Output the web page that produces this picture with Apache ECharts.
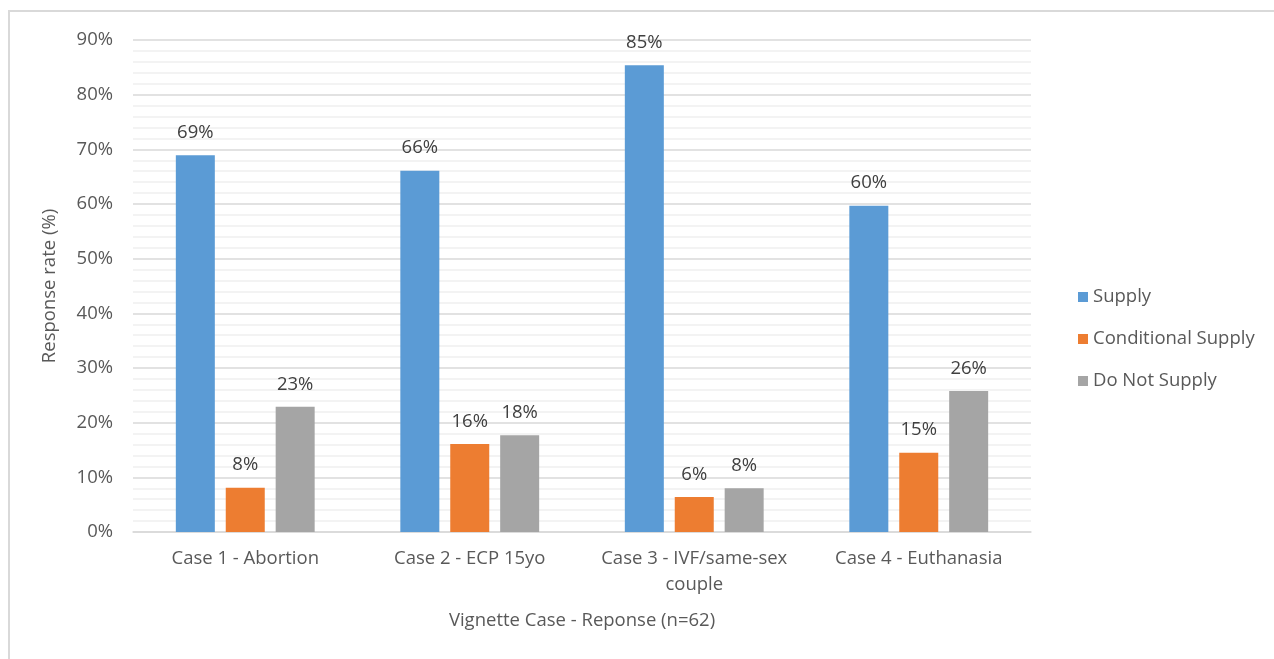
<!DOCTYPE html>
<html>
<head>
<meta charset="utf-8">
<script src="https://cdn.jsdelivr.net/npm/echarts@6/dist/echarts.min.js"></script>
<style>
  html, body { margin: 0; padding: 0; background: #fff; }
  #main { width: 1274px; height: 659px; }
</style>
</head>
<body>
<div id="main"></div>
<script>
const categories = ['Case 1 - Abortion', 'Case 2 - ECP 15yo', 'Case 3 - IVF/same-sex\ncouple', 'Case 4 - Euthanasia'];
const supply = [68.9, 66.1, 85.4, 59.7];
const conditionalSupply = [8.1, 16.1, 6.4, 14.5];
const doNotSupply = [22.9, 17.7, 8.0, 25.8];
const seriesNames = ['Supply', 'Conditional Supply', 'Do Not Supply'];

const chart = echarts.init(document.getElementById('main'));
const font = '"Open Sans", sans-serif';
const fs = 18.5;

function barSeries(name, values, color) {
  return {
    name: name,
    type: 'bar',
    data: values,
    barWidth: 39,
    barGap: '28%',
    itemStyle: { color: color },
    label: {
      show: true,
      position: 'top',
      distance: 13,
      color: '#404040',
      fontFamily: font,
      fontSize: fs,
      formatter: p => Math.round(p.value) + '%'
    }
  };
}

var option = {
  backgroundColor: '#fff',
  animation: false,
  color: ['#5B9BD5', '#ED7D31', '#A5A5A5'],
  grid: { left: 133, right: 243, top: 40, bottom: 127 },
  legend: {
    orient: 'vertical',
    left: 1073,
    top: 282,
    itemWidth: 10,
    itemHeight: 10,
    itemGap: 22,
    icon: 'rect',
    data: seriesNames,
    textStyle: { color: '#595959', fontFamily: font, fontSize: fs, lineHeight: 20 }
  },
  xAxis: {
    type: 'category',
    data: categories,
    name: 'Vignette Case - Reponse (n=62)',
    nameLocation: 'middle',
    nameGap: 79,
    nameTextStyle: { color: '#595959', fontFamily: font, fontSize: fs },
    axisLine: { lineStyle: { color: '#d9d9d9', width: 1.5 } },
    axisTick: { show: false },
    axisLabel: { interval: 0, color: '#595959', fontFamily: font, fontSize: fs, lineHeight: 26, margin: 14 }
  },
  yAxis: {
    type: 'value',
    min: 0,
    max: 90,
    interval: 10,
    name: 'Response rate (%)',
    nameLocation: 'middle',
    nameGap: 74,
    nameTextStyle: { color: '#595959', fontFamily: font, fontSize: fs },
    axisLine: { show: false },
    axisTick: { show: false },
    axisLabel: { color: '#595959', fontFamily: font, fontSize: fs, margin: 20, formatter: '{value}%' },
    splitLine: { lineStyle: { color: '#d9d9d9', width: 1.5 } },
    minorTick: { show: false, splitNumber: 5 },
    minorSplitLine: { show: true, lineStyle: { color: '#f0f0f0', width: 1.5 } }
  },
  graphic: [
    { type: 'line', shape: { x1: 8, y1: 11, x2: 1274, y2: 11 }, style: { stroke: '#d9d9d9', lineWidth: 2 } },
    { type: 'line', shape: { x1: 9, y1: 10, x2: 9, y2: 659 }, style: { stroke: '#d9d9d9', lineWidth: 2 } }
  ],
  series: [
    barSeries(seriesNames[0], supply, '#5B9BD5'),
    barSeries(seriesNames[1], conditionalSupply, '#ED7D31'),
    barSeries(seriesNames[2], doNotSupply, '#A5A5A5')
  ]
};

chart.setOption(option);
</script>
</body>
</html>
